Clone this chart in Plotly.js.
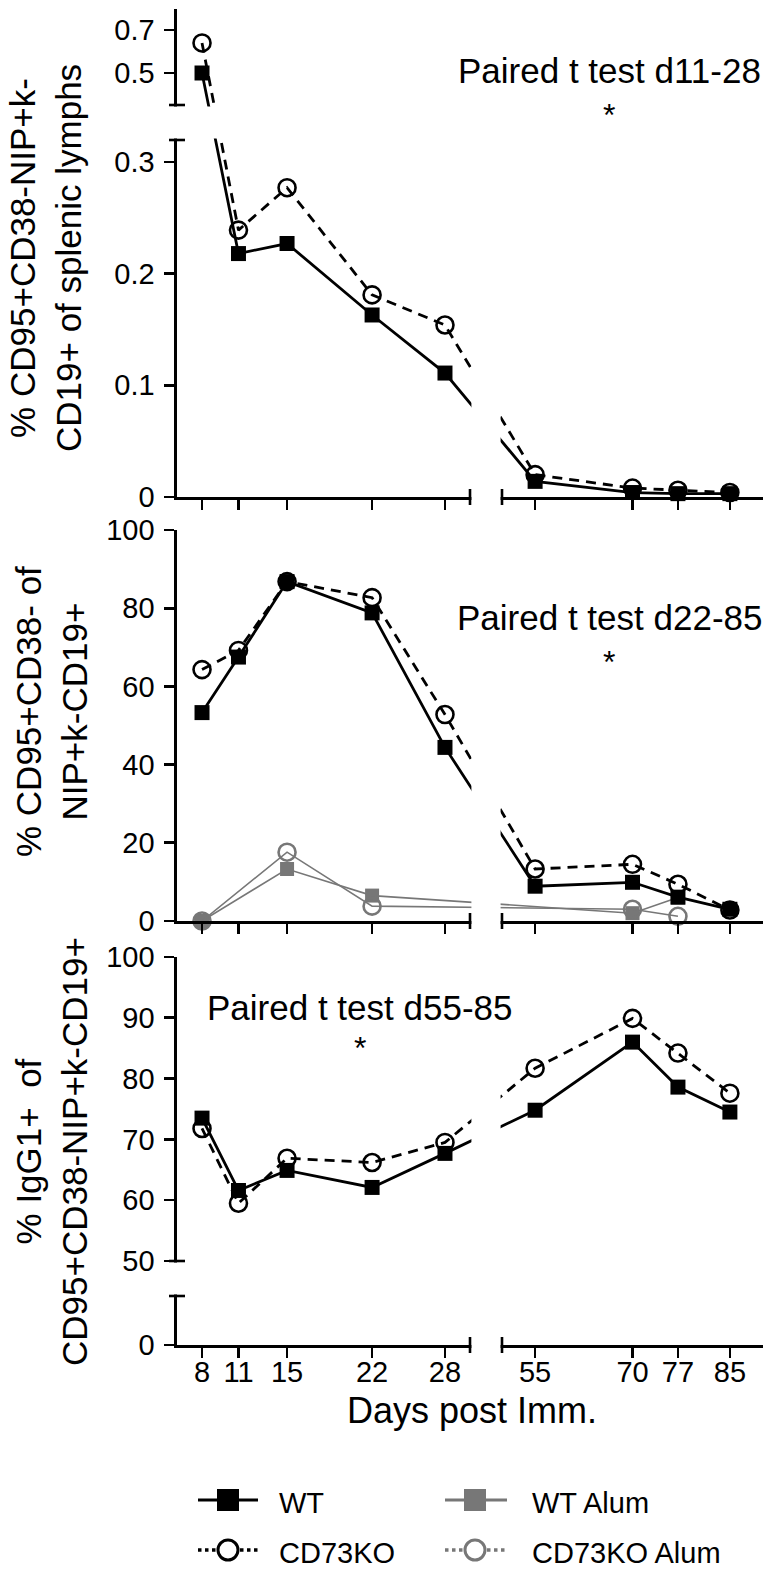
<!DOCTYPE html>
<html><head><meta charset="utf-8">
<script src="https://cdn.plot.ly/plotly-3.0.1.min.js"></script>
<style>html,body{margin:0;padding:0;background:#fff;overflow:hidden}</style>
</head><body><div id="chart" style="width:774px;height:1569px"></div>
<script>
// ---------------- data ----------------
const days = [8, 11, 15, 22, 28, 55, 70, 77, 85];
const dayTickLabels = ['8', '11', '15', '22', '28', '55', '70', '77', '85'];

// Panel 1: % CD95+CD38-NIP+k-CD19+ of splenic lymphs
const p1_wt = [0.50, 0.218, 0.227, 0.163, 0.111, 0.014, 0.004, 0.003, 0.003];
const p1_ko = [0.64, 0.239, 0.277, 0.181, 0.154, 0.020, 0.008, 0.006, 0.004];

// Panel 2: % CD95+CD38- of NIP+k-CD19+
const p2_wt = [53.3, 67.5, 86.8, 78.8, 44.4, 8.9, 9.9, 6.1, 3.0];
const p2_ko = [64.3, 69.2, 86.8, 82.7, 52.8, 13.3, 14.5, 9.4, 2.8];
const alumDays = [8, 15, 22, 70, 77];
const p2_wtAlum = [0, 13.3, 6.5, 2.0, 6.0];
const p2_koAlum = [0, 17.6, 3.8, 3.0, 1.2];

// Panel 3: % IgG1+ of CD95+CD38-NIP+k-CD19+
const p3_wt = [73.5, 61.6, 64.9, 62.1, 67.7, 74.8, 86.0, 78.6, 74.5];
const p3_ko = [71.8, 59.5, 66.9, 66.2, 69.5, 81.7, 89.9, 84.2, 77.6];

const p1Ticks = [0, 0.1, 0.2, 0.3, 0.5, 0.7];
const p1TickLabels = ['0', '0.1', '0.2', '0.3', '0.5', '0.7'];
const p2Ticks = [0, 20, 40, 60, 80, 100];
const p3Ticks = [0, 50, 60, 70, 80, 90, 100];

// ---------------- geometry (pixels) ----------------
const W = 774, H = 1569;
const px = v => v / W;
const py = v => 1 - v / H;
const FONT = 'Liberation Sans, Arial, Helvetica, sans-serif';

// broken-axis scales: each segment maps a value range onto a pixel range
function brokenScale(segs, toPaper) {
  return v => {
    let s = segs[0];
    for (const g of segs) if (v >= g.v0 - 1e-9) s = g;
    return toPaper(s.p0 + (v - s.v0) / (s.v1 - s.v0) * (s.p1 - s.p0));
  };
}
const xSegs = [
  {v0: 5.94, v1: 30.06, p0: 177, p1: 470},
  {v0: 49.9, v1: 90.1, p0: 502, p1: 763}
];
const bx = brokenScale(xSegs, px);
const y1Segs = [
  {v0: 0, v1: 0.3197, p0: 497, p1: 140},
  {v0: 0.351, v1: 0.798, p0: 105, p1: 9}
];
const by1 = brokenScale(y1Segs, py);
const y3Segs = [
  {v0: 0, v1: 8, p0: 1345, p1: 1296},
  {v0: 50, v1: 100, p0: 1261, p1: 957}
];
const by3 = brokenScale(y3Segs, py);

const AX_X = 177, AX_XR = 763;
const P1_AXIS = 497, P2_AXIS = 921, P3_AXIS = 1345;

// ---------------- traces ----------------
const wtLine = {color: '#000', width: 2.8};
const koLine = {color: '#000', width: 2.8, dash: '10px,7px'};
const wtMarker = {symbol: 'square', size: 15, color: '#000'};
const koMarker = {symbol: 'circle-open', size: 17, color: '#000', line: {width: 2.6, color: '#000'}};
const GRAY = '#777777';

const traces = [];
function add(xs, ys, ax, line, marker, yfun) {
  traces.push({
    type: 'scatter', mode: 'lines+markers',
    x: xs.map(bx), y: yfun ? ys.map(yfun) : ys,
    xaxis: 'x' + ax, yaxis: 'y' + ax, line: line, marker: marker,
    cliponaxis: false, showlegend: false, hoverinfo: 'skip'
  });
}
// panel 1
add(days, p1_ko, '', koLine, koMarker, by1);
add(days, p1_wt, '', wtLine, wtMarker, by1);
// panel 2
add(alumDays, p2_wtAlum, '2', {color: GRAY, width: 1.6}, {symbol: 'square', size: 14, color: GRAY});
add(alumDays, p2_koAlum, '2', {color: GRAY, width: 1.6}, {symbol: 'circle-open', size: 17, color: GRAY, line: {width: 2.6, color: GRAY}});
add(days, p2_ko, '2', koLine, koMarker);
add(days, p2_wt, '2', wtLine, wtMarker);
// panel 3
add(days, p3_ko, '3', koLine, koMarker, by3);
add(days, p3_wt, '3', wtLine, wtMarker, by3);

// ---------------- axes ----------------
const axStyle = {
  showline: true, linecolor: '#000', linewidth: 2.6,
  ticks: 'outside', ticklen: 10, tickwidth: 2.6, tickcolor: '#000',
  showgrid: false, zeroline: false, fixedrange: true,
  tickfont: {family: FONT, size: 29, color: '#000'}
};
function xAx(anchor, labels) {
  return Object.assign({}, axStyle, {
    domain: [px(AX_X), px(AX_XR)], range: [px(AX_X), px(AX_XR)],
    tickmode: 'array', tickvals: days.map(bx), ticktext: dayTickLabels,
    showticklabels: labels, anchor: anchor, ticklabelstandoff: -10
  });
}
function yAx(anchor, domPx, range, tickvals, ticktext) {
  return Object.assign({}, axStyle, {
    domain: [py(domPx[0]), py(domPx[1])], range: range,
    tickmode: 'array', tickvals: tickvals, ticktext: ticktext,
    anchor: anchor, ticklabelstandoff: 4
  });
}

const layout = {
  width: W, height: H,
  margin: {l: 0, r: 0, t: 0, b: 0},
  paper_bgcolor: '#fff', plot_bgcolor: 'rgba(0,0,0,0)',
  showlegend: false,
  font: {family: FONT, color: '#000'},
  xaxis: xAx('y', false),
  xaxis2: xAx('y2', false),
  xaxis3: xAx('y3', true),
  yaxis: yAx('x', [P1_AXIS, 9], [py(P1_AXIS), py(9)], p1Ticks.map(by1), p1TickLabels),
  yaxis2: yAx('x2', [P2_AXIS, 530], [0, 100], p2Ticks, p2Ticks.map(String)),
  yaxis3: yAx('x3', [P3_AXIS, 957], [py(P3_AXIS), py(957)], p3Ticks.map(by3), p3Ticks.map(String)),
  shapes: [],
  annotations: []
};

// ---- masks for the axis breaks (white), then break caps ----
function rectPx(x0, y0, x1, y1, fill) {
  return {type: 'rect', xref: 'paper', yref: 'paper', layer: 'above',
    x0: px(x0), x1: px(x1), y0: py(y0), y1: py(y1), fillcolor: fill, line: {width: 0}};
}
function linePx(x0, y0, x1, y1, color, width, dash) {
  return {type: 'line', xref: 'paper', yref: 'paper', layer: 'above',
    x0: px(x0), x1: px(x1), y0: py(y0), y1: py(y1),
    line: {color: color, width: width, dash: dash || 'solid'}};
}
const S = layout.shapes;
S.push(rectPx(471.4, 115, 500.6, P1_AXIS + 3, '#fff'));
S.push(rectPx(160, 106.4, 320, 138.6, '#fff'));
S.push(rectPx(471.4, 528, 500.6, P2_AXIS + 3, '#fff'));
S.push(rectPx(471.4, 955, 500.6, P3_AXIS + 3, '#fff'));
S.push(rectPx(160, 1262.4, 190, 1294.6, '#fff'));
[P1_AXIS, P2_AXIS, P3_AXIS].forEach(a => {
  S.push(linePx(470, a - 8, 470, a + 8, '#000', 2.6));
  S.push(linePx(502, a - 8, 502, a + 8, '#000', 2.6));
});
[105, 140, 1261, 1296].forEach(y => S.push(linePx(AX_X - 8, y, AX_X + 8, y, '#000', 2.6)));

// ---- text ----
const A = layout.annotations;
function txt(text, x, y, size, opts) {
  A.push(Object.assign({text: text, xref: 'paper', yref: 'paper', x: px(x), y: py(y),
    showarrow: false, xanchor: 'center', yanchor: 'middle',
    font: {family: FONT, size: size, color: '#000'}}, opts || {}));
}
txt('Paired t test d11-28', 609, 70, 35);
txt('*', 609, 115, 32);
txt('Paired t test d22-85', 609, 617, 35);
txt('*', 609, 662, 32);
txt('Paired t test d55-85', 359, 1008, 35);
txt('*', 360, 1048, 32);

txt('% CD95+CD38-NIP+k-<br>CD19+ of splenic lymphs', 45, 258, 35, {textangle: -90});
txt('% CD95+CD38- of<br>NIP+k-CD19+', 51, 712, 35, {textangle: -90});
txt('% IgG1+\u00a0 of<br>CD95+CD38-NIP+k-CD19+', 51, 1152, 35, {textangle: -90});
txt('Days post Imm.', 472, 1410, 36);

// ---- legend ----
const legRows = [1500, 1550];
const legCols = [{lx0: 198, lx1: 258, mx: 228, tx: 277}, {lx0: 445, lx1: 507, mx: 475, tx: 530}];
function legSquare(c, y, color) {
  S.push(linePx(c.lx0, y, c.lx1, y, color, 3));
  S.push(rectPx(c.mx - 11, y - 11, c.mx + 11, y + 11, color));
}
function legCircle(c, y, color) {
  S.push(linePx(c.lx0, y, c.lx1, y, color, 3.5, 'dot'));
  S.push({type: 'circle', xref: 'paper', yref: 'paper', layer: 'above',
    x0: px(c.mx - 10), x1: px(c.mx + 10), y0: py(y + 10), y1: py(y - 10),
    fillcolor: '#fff', line: {color: color, width: 3}});
}
legSquare(legCols[0], legRows[0], '#000');
legCircle(legCols[0], legRows[1], '#000');
legSquare(legCols[1], legRows[0], GRAY);
legCircle(legCols[1], legRows[1], GRAY);
txt('WT', legCols[0].tx, legRows[0] + 3, 29, {xanchor: 'left'});
txt('CD73KO', legCols[0].tx, legRows[1] + 3, 29, {xanchor: 'left'});
txt('WT Alum', legCols[1].tx, legRows[0] + 3, 29, {xanchor: 'left'});
txt('CD73KO Alum', legCols[1].tx, legRows[1] + 3, 29, {xanchor: 'left'});

Plotly.newPlot('chart', traces, layout, {staticPlot: true, displayModeBar: false});
</script>
</body></html>
